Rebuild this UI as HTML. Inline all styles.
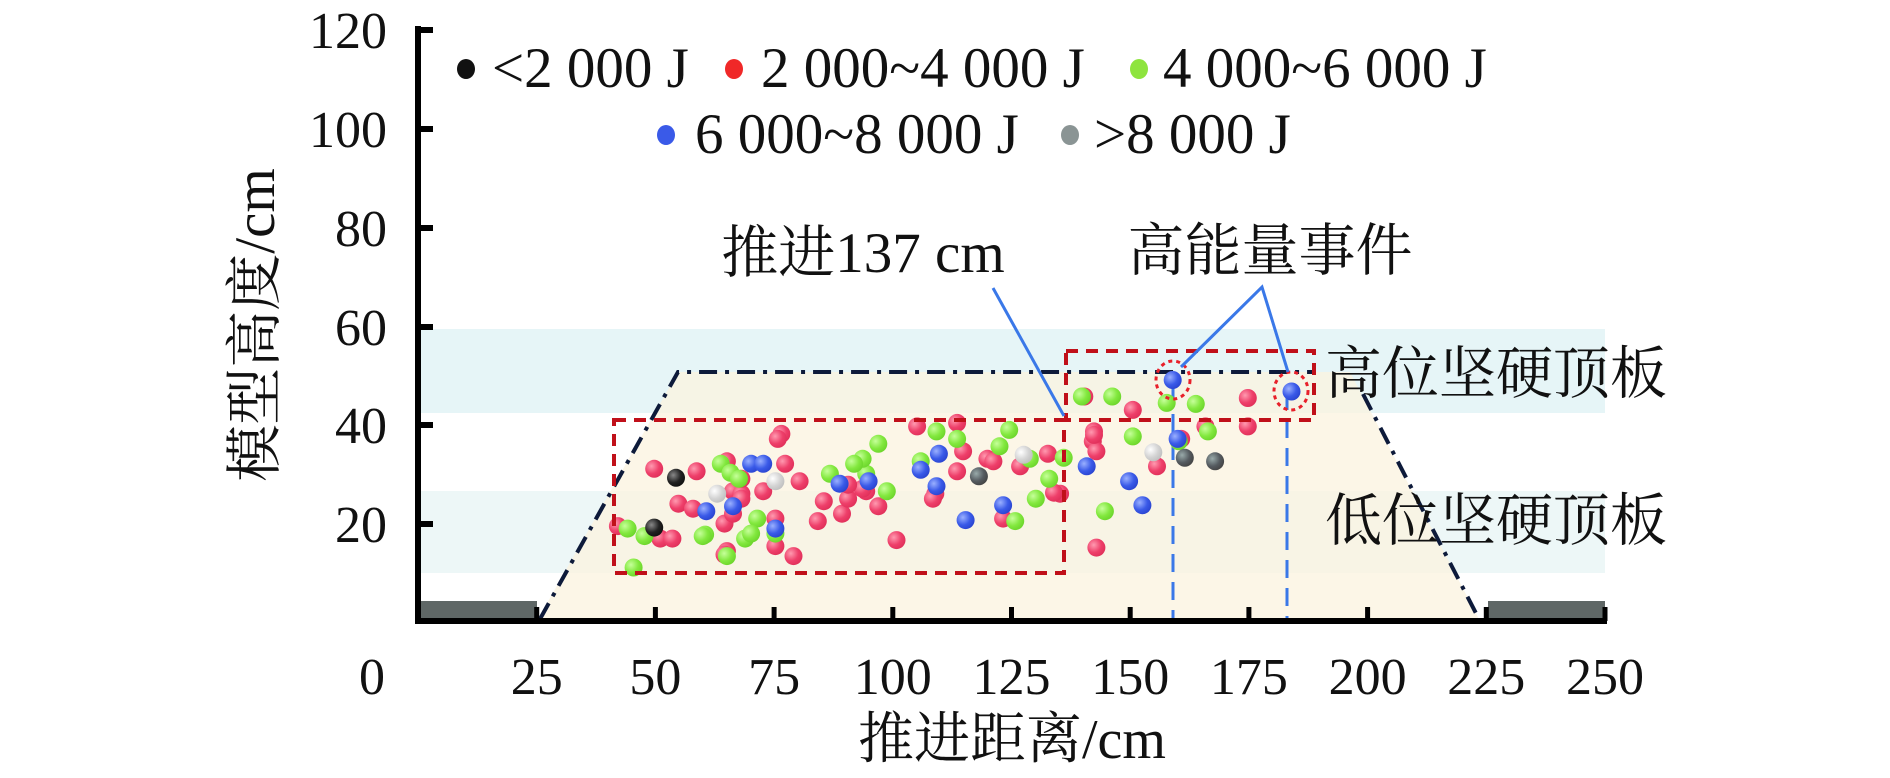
<!DOCTYPE html>
<html><head><meta charset="utf-8"><style>
html,body{margin:0;padding:0;background:#fff;}
svg{display:block;}
text{font-family:"Liberation Serif","Noto Serif CJK SC",serif;fill:#111;}
</style></head><body>
<svg id="s" width="1890" height="778" viewBox="0 0 1890 778" xmlns="http://www.w3.org/2000/svg">
<defs>
<radialGradient id="gr" cx="0.35" cy="0.35" r="0.7"><stop offset="0" stop-color="#ff9ab0"/><stop offset="0.6" stop-color="#ee3f6a"/><stop offset="1" stop-color="#e0305a"/></radialGradient>
<radialGradient id="gg" cx="0.35" cy="0.35" r="0.7"><stop offset="0" stop-color="#c6ff9a"/><stop offset="0.6" stop-color="#82e83e"/><stop offset="1" stop-color="#6cd52c"/></radialGradient>
<radialGradient id="gb" cx="0.35" cy="0.35" r="0.7"><stop offset="0" stop-color="#9ab0ff"/><stop offset="0.6" stop-color="#3a5ae8"/><stop offset="1" stop-color="#2a44d0"/></radialGradient>
<radialGradient id="gk" cx="0.35" cy="0.35" r="0.7"><stop offset="0" stop-color="#888"/><stop offset="0.6" stop-color="#222"/><stop offset="1" stop-color="#111"/></radialGradient>
<radialGradient id="gd" cx="0.35" cy="0.35" r="0.7"><stop offset="0" stop-color="#9aa"/><stop offset="0.6" stop-color="#555b60"/><stop offset="1" stop-color="#444"/></radialGradient>
<radialGradient id="gl" cx="0.35" cy="0.35" r="0.7"><stop offset="0" stop-color="#fff"/><stop offset="0.6" stop-color="#d4d4d4"/><stop offset="1" stop-color="#c0c0c0"/></radialGradient>
</defs>
<rect x="418" y="329" width="1187" height="84" fill="#e6f5f7"/>
<rect x="418" y="491" width="1187" height="82" fill="#edf7f7"/>
<polygon points="537,621 678,372 1350,372 1480,621" fill="#fbf3df" fill-opacity="0.75"/>
<rect x="418" y="601" width="119" height="20" fill="#5f6766"/>
<rect x="1488" y="601" width="117" height="20" fill="#5f6766"/>
<polyline points="540,619 678,372 1314,372" fill="none" stroke="#0d1a3a" stroke-width="4" stroke-dasharray="18,8,4,8"/>
<polyline points="1363,394 1480,621" fill="none" stroke="#0d1a3a" stroke-width="4" stroke-dasharray="18,8,4,8"/>
<line x1="1173" y1="386" x2="1173" y2="621" stroke="#3a78e8" stroke-width="3" stroke-dasharray="18,10"/>
<line x1="1287" y1="392" x2="1287" y2="621" stroke="#3a78e8" stroke-width="3" stroke-dasharray="18,10"/>
<g id="pts"></g>
<rect x="614" y="420" width="450" height="153" fill="none" stroke="#c0101a" stroke-width="4" stroke-dasharray="12,8"/>
<rect x="1066" y="351" width="248" height="69" fill="none" stroke="#c0101a" stroke-width="4" stroke-dasharray="12,8"/>
<ellipse cx="1173" cy="380" rx="17" ry="19" fill="none" stroke="#e8202a" stroke-width="3" stroke-dasharray="4,4"/>
<ellipse cx="1291" cy="391" rx="17" ry="19" fill="none" stroke="#e8202a" stroke-width="3" stroke-dasharray="4,4"/>
<line x1="993" y1="288" x2="1064" y2="416" stroke="#3a78e8" stroke-width="3"/>
<polyline points="1181,367 1262,287 1288,372" fill="none" stroke="#3a78e8" stroke-width="3"/>
<line x1="418" y1="26" x2="418" y2="624" stroke="#000" stroke-width="6"/>
<line x1="415" y1="621" x2="1607" y2="621" stroke="#000" stroke-width="6"/>
<g stroke="#000" stroke-width="6">
<line x1="418" y1="524" x2="433" y2="524"/><line x1="418" y1="425" x2="433" y2="425"/><line x1="418" y1="327" x2="433" y2="327"/>
<line x1="418" y1="228" x2="433" y2="228"/><line x1="418" y1="129" x2="433" y2="129"/><line x1="418" y1="30" x2="433" y2="30"/>
</g>
<g stroke="#000" stroke-width="5" id="xt"></g>
<g font-size="52" text-anchor="end">
<text x="387" y="542">20</text><text x="387" y="443">40</text><text x="387" y="345">60</text>
<text x="387" y="246">80</text><text x="387" y="147">100</text><text x="387" y="48">120</text>
</g>
<g font-size="52" text-anchor="middle" id="xl"></g>
<text x="1012" y="758" font-size="56" text-anchor="middle">推进距离/cm</text>
<text transform="translate(274,325) rotate(-90)" font-size="57" text-anchor="middle">模型高度/cm</text>
<g font-size="57">
<ellipse cx="466" cy="69" rx="9" ry="10" fill="#111"/><text x="492" y="87">&lt;2 000 J</text>
<ellipse cx="734" cy="69" rx="9" ry="10" fill="#f02828"/><text x="761" y="87">2 000~4 000 J</text>
<ellipse cx="1139" cy="69" rx="9" ry="10" fill="#8ee43e"/><text x="1163" y="87">4 000~6 000 J</text>
<ellipse cx="666" cy="135" rx="9" ry="10" fill="#3a5ae8"/><text x="695" y="153">6 000~8 000 J</text>
<ellipse cx="1070" cy="135" rx="9" ry="10" fill="#8a9494"/><text x="1094" y="153">&gt;8 000 J</text>
</g>
<g font-size="57">
<text x="863" y="272" text-anchor="middle">推进137 cm</text>
<text x="1270" y="270" text-anchor="middle">高能量事件</text>
<text x="1496" y="393" text-anchor="middle">高位坚硬顶板</text>
<text x="1496" y="540" text-anchor="middle">低位坚硬顶板</text>
</g>
</svg>
<script>
(function(){
var NS="http://www.w3.org/2000/svg";
var xt=document.getElementById("xt"),xl=document.getElementById("xl");
for(var i=0;i<=10;i++){var x=418+i*118.7;
 if(i>0){var l=document.createElementNS(NS,"line");l.setAttribute("x1",x);l.setAttribute("x2",x);l.setAttribute("y1",607);l.setAttribute("y2",621);xt.appendChild(l);}
 var t=document.createElementNS(NS,"text");t.setAttribute("x",i==0?372:x);t.setAttribute("y",694);t.textContent=String(i*25);xl.appendChild(t);}
var P={r:[[540,940],[575,945],[560,1010],[572,1020],[510,1055],[545,1080],[555,1080],[600,925],[605,985],[612,990],[630,985],[598,1050],[605,1030],[600,1105],[598,1112],[640,1095],[655,1115],[645,870],[642,880],[648,930],[660,965],[640,1040],[675,1045],[680,1005],[695,1030],[700,1000],[715,985],[712,980],[725,1015],[740,1083],[757,855],[790,848],[795,905],[790,945],[772,990],[815,920],[820,925],[828,1040],[842,935],[865,910],[875,990],[935,822],[895,795],[903,865],[902,885],[905,905],[905,1098],[955,935],[975,880],[995,855],[1030,798],[1030,855],[903,872],[870,988],[770,1000],[700,972],[612,960],[612,1000]],
g:[[595,930],[603,948],[610,960],[625,1040],[615,1080],[620,1070],[600,1115],[582,1072],[518,1060],[532,1075],[523,1138],[725,890],[715,950],[712,920],[685,950],[705,930],[732,985],[760,925],[773,865],[790,880],[833,862],[825,895],[850,920],[855,1000],[866,960],[878,918],[893,795],[918,795],[935,875],[912,1025],[963,808],[987,810],[997,865],[973,885],[640,1070],[838,1045],[580,1075]],
b:[[583,1025],[605,1015],[620,930],[630,930],[640,1060],[693,970],[717,965],[760,942],[775,910],[773,975],[797,1043],[828,1013],[897,935],[932,965],[943,1013],[972,880],[968,762],[1066,785]],
k:[[558,958],[540,1058]],d:[[808,955],[978,918],[1003,925]],l:[[592,990],[640,965],[845,912],[952,907]]};
var g=document.getElementById("pts");
for(var c in P){P[c].forEach(function(p){var e=document.createElementNS(NS,"circle");e.setAttribute("cx",(p[0]*1.2115).toFixed(1));e.setAttribute("cy",(p[1]*0.4987).toFixed(1));e.setAttribute("r",9);e.setAttribute("fill","url(#g"+c+")");g.appendChild(e);});}
})();
</script>
</body></html>
